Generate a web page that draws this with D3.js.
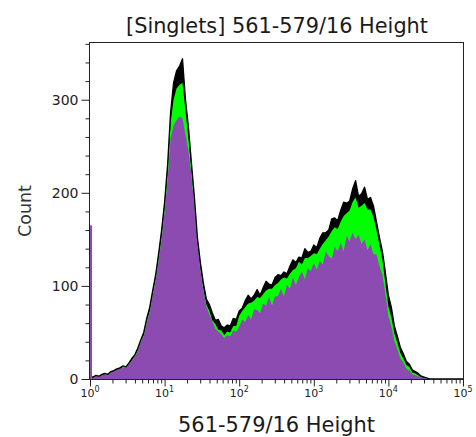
<!DOCTYPE html>
<html><head><meta charset="utf-8">
<script src="https://cdn.jsdelivr.net/npm/d3@7"></script>
<style>body{margin:0;background:#fff} svg{display:block}</style>
</head><body>
<script>
// ---- data ----
const binStepLog = 0.04; // decades per histogram bin, 10^0 .. 10^5
const blackCounts = [3,2,4,3,5,6,5,8,9,11,12,14,13,17,22,26,33,42,50,65,77,95,112,135,160,190,230,286,318,331,336,344,300,270,232,195,152,125,103,86,80,71,63,64,57,55,58,57,65,64,73,76,84,90,86,90,96,90,98,105,102,101,109,112,111,115,113,121,128,125,131,130,140,136,137,144,141,151,157,157,160,172,173,170,181,190,189,191,204,213,196,199,206,193,195,186,169,152,137,114,90,77,57,46,34,27,19,16,10,8,6,3,2,1,0,0,0,0,0,0,0,0,0,0,0,0];
const greenCounts = [2,2,3,3,4,5,5,7,8,10,11,13,13,16,20,25,31,41,47,63,73,92,108,131,154,185,222,275,300,312,316,318,288,258,224,190,147,119,97,80,73,63,59,53,52,47,51,50,57,57,68,73,77,81,82,84,88,87,91,95,97,97,101,103,107,109,108,113,117,119,126,123,130,130,132,135,134,140,145,149,153,159,163,161,169,175,178,181,190,195,184,186,189,182,182,174,160,144,128,102,78,66,49,39,28,22,15,13,7,6,4,2,1,1,0,0,0,0,0,0,0,0,0,0,0,0];
const purpleCounts = [2,2,3,3,4,5,5,7,8,10,11,12,12,16,19,24,30,40,46,61,72,90,106,128,150,180,214,258,272,278,282,280,262,245,218,186,145,117,95,78,69,62,54,51,48,44,47,46,52,51,56,64,61,69,64,75,74,71,81,79,88,79,89,89,97,89,101,97,109,101,109,116,107,119,116,125,117,127,123,137,132,129,142,137,146,137,154,148,157,150,155,145,150,138,145,134,134,121,112,91,68,56,41,32,22,18,11,9,5,4,3,1,1,0,0,0,0,0,0,0,0,0,0,0,0,0];
const purpleUnderflow = 165; // pile-up in the first channel
const yTickLabels = [0, 100, 200, 300];
const xDecades = [0, 1, 2, 3, 4, 5];
const titleText = "[Singlets] 561-579/16 Height";
const xTitleText = "561-579/16 Height";
const yTitleText = "Count";

// ---- drawing ----
const W = 476, H = 437;
const L = 90, R = 463, T = 42, B = 379;
const svg = d3.select("body").append("svg").attr("width", W).attr("height", H);
const x = d3.scaleLog().domain([1, 1e5]).range([L, R]);
const y = d3.scaleLinear().domain([0, 362]).range([B, T]);
const binX = i => Math.pow(10, i * binStepLog);
const FONT = "DejaVu Sans, Verdana, sans-serif";

svg.append("clipPath").attr("id", "clip").append("rect")
  .attr("x", L).attr("y", T).attr("width", R - L).attr("height", B - T);
const plot = svg.append("g").attr("clip-path", "url(#clip)");

const area = d3.area().x((d, i) => x(binX(i))).y0(y(0)).y1(d => y(d));
const line = d3.line().x((d, i) => x(binX(i))).y(d => y(d));

plot.append("path").datum(blackCounts).attr("d", area).attr("fill", "#000");
plot.append("path").datum(greenCounts).attr("d", area).attr("fill", "#00ff00");
plot.append("path").datum(purpleCounts).attr("d", area).attr("fill", "#8c4bb0");
plot.append("path").datum(blackCounts).attr("d", line).attr("fill", "none")
  .attr("stroke", "#000").attr("stroke-width", 1.3).attr("stroke-linejoin", "round");
plot.append("rect").attr("x", x(1)).attr("width", 2)
  .attr("y", y(purpleUnderflow)).attr("height", y(0) - y(purpleUnderflow)).attr("fill", "#8c4bb0");

// frame
svg.append("rect").attr("x", L - 0.5).attr("y", T + 0.5).attr("width", R - L + 1).attr("height", B - T)
  .attr("fill", "none").attr("stroke", "#222").attr("stroke-width", 1);

// y axis
const yAxis = svg.append("g").attr("transform", `translate(${L - 0.5},0)`)
  .call(d3.axisLeft(y).tickValues(d3.range(0, 361, 20)).tickSize(4)
    .tickFormat(d => yTickLabels.includes(d) ? d : ""));
yAxis.select(".domain").remove();
yAxis.selectAll(".tick line").attr("x2", d => yTickLabels.includes(d) ? -8 : -4).attr("stroke", "#222");
yAxis.selectAll(".tick text").attr("x", -11).attr("font-family", FONT).attr("font-size", 14)
  .attr("fill", "#222");

// x axis
const xTicks = [];
xDecades.forEach(dd => { if (dd < 5) { for (let m = 1; m <= 9; m++) xTicks.push(m * Math.pow(10, dd)); } else xTicks.push(1e5); });
const xAxis = svg.append("g").attr("transform", `translate(0,${B + 0.5})`)
  .call(d3.axisBottom(x).tickValues(xTicks).tickSize(4).tickFormat(""));
xAxis.select(".domain").remove();
const isMajor = v => Math.abs(Math.log10(v) - Math.round(Math.log10(v))) < 1e-9;
xAxis.selectAll(".tick line").attr("y2", d => isMajor(d) ? 7 : 4).attr("stroke", "#222");
xDecades.forEach(dd => {
  const t = svg.append("text").attr("x", x(Math.pow(10, dd))).attr("y", 397)
    .attr("text-anchor", "middle").attr("font-family", FONT).attr("font-size", 11).attr("fill", "#222");
  t.append("tspan").text("10");
  t.append("tspan").attr("dy", -5).attr("font-size", 8).text(dd);
});

function fitText(sel, target) {
  const w = sel.node().getComputedTextLength();
  const fs = parseFloat(sel.attr("font-size"));
  sel.attr("font-size", (fs * target / w).toFixed(2));
}
const tt = svg.append("text").attr("x", 277).attr("y", 33).attr("text-anchor", "middle")
  .attr("font-family", FONT).attr("font-size", 18).attr("fill", "#1a1a1a").text(titleText);
fitText(tt, 302);
const xt = svg.append("text").attr("x", 276.5).attr("y", 432).attr("text-anchor", "middle")
  .attr("font-family", FONT).attr("font-size", 18).attr("fill", "#1a1a1a").text(xTitleText);
fitText(xt, 197);
const yt = svg.append("text").attr("transform", "translate(31,211) rotate(-90)").attr("text-anchor", "middle")
  .attr("font-family", FONT).attr("font-size", 17).attr("fill", "#333").text(yTitleText);
fitText(yt, 52);
</script>
</body></html>
